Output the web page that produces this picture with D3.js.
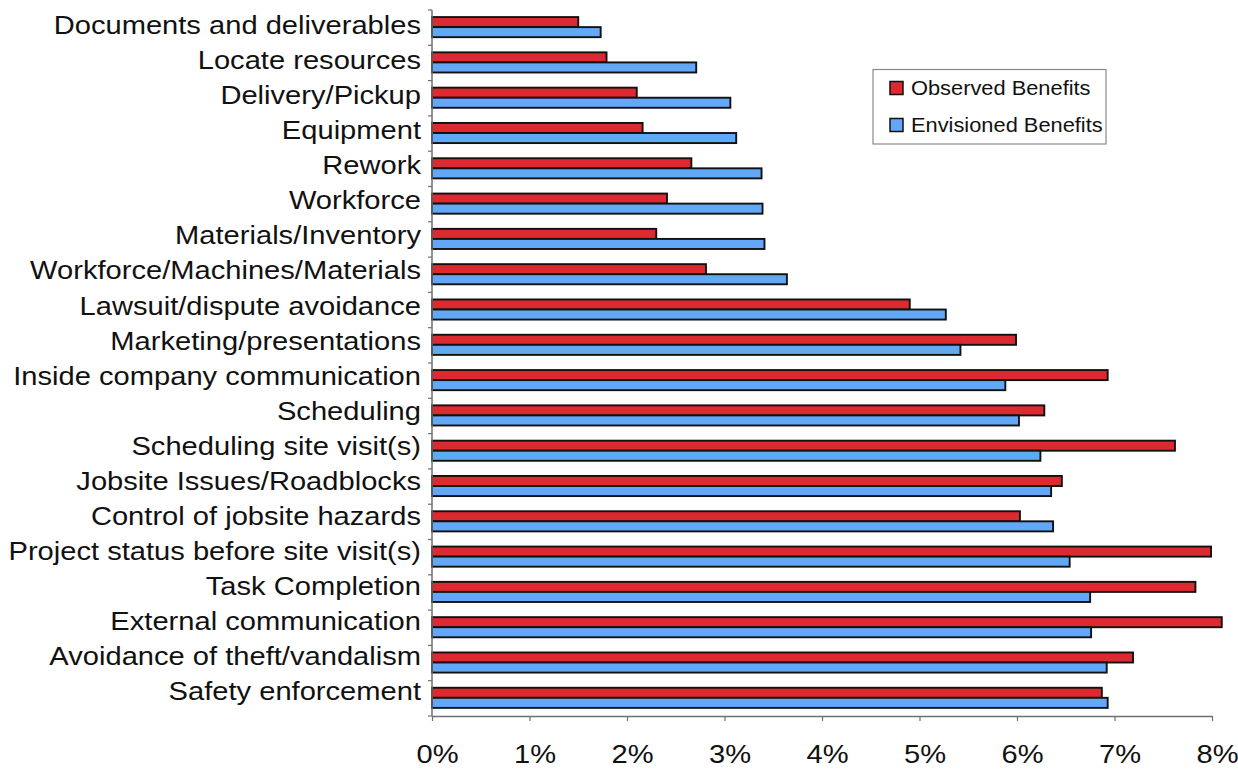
<!DOCTYPE html>
<html>
<head>
<meta charset="utf-8">
<script src="https://cdn.jsdelivr.net/npm/d3@7"></script>
<style>
  body { margin: 0; background: #fff; }
  svg { display: block; }
</style>
</head>
<body>
<svg id="chart" width="1238" height="772"></svg>
<script>
// Benefit categories, listed top to bottom
const categories = [
  "Documents and deliverables",
  "Locate resources",
  "Delivery/Pickup",
  "Equipment",
  "Rework",
  "Workforce",
  "Materials/Inventory",
  "Workforce/Machines/Materials",
  "Lawsuit/dispute avoidance",
  "Marketing/presentations",
  "Inside company communication",
  "Scheduling",
  "Scheduling site visit(s)",
  "Jobsite Issues/Roadblocks",
  "Control of jobsite hazards",
  "Project status before site visit(s)",
  "Task Completion",
  "External communication",
  "Avoidance of theft/vandalism",
  "Safety enforcement"
];

// Share of responses, in percent
const observed = [1.50, 1.79, 2.10, 2.16, 2.66, 2.41, 2.30, 2.81, 4.90, 5.99,
                  6.93, 6.28, 7.62, 6.46, 6.03, 7.99, 7.83, 8.10, 7.19, 6.87];
const envisioned = [1.73, 2.71, 3.06, 3.12, 3.38, 3.39, 3.41, 3.64, 5.27, 5.42,
                    5.88, 6.02, 6.24, 6.35, 6.37, 6.54, 6.75, 6.76, 6.92, 6.93];

const xTicks = [0, 1, 2, 3, 4, 5, 6, 7, 8];
const seriesNames = ["Observed Benefits", "Envisioned Benefits"];
const seriesColors = ["#dc2a30", "#62a8f6"];

const svg = d3.select("#chart");
const FONT = '"Liberation Sans", Arial, Helvetica, sans-serif';
const STRETCH = 1.12; // slightly wide lettering
const plot = { left: 432, right: 1212, top: 10, bottom: 716 };
const axisColor = "#6f6f6f";

const x = d3.scaleLinear().domain([0, 8]).range([plot.left, plot.right]);
const y = d3.scaleBand().domain(categories).range([plot.top, plot.bottom]);
const inner = d3.scaleBand().domain([0, 1])
  .range([y.bandwidth() * 0.2, y.bandwidth() * 0.77]);
// labels sit a little above the band centre, more so further down
const labelBaseline = d3.scaleLinear().domain([0, categories.length - 1]).range([6.3, 2.0]);

const series = [observed, envisioned];

// Bars
series.forEach((vals, si) => {
  svg.append("g").selectAll("rect")
    .data(categories)
    .join("rect")
    .attr("x", x(0))
    .attr("y", (c) => y(c) + inner(si))
    .attr("width", (c, i) => x(vals[i]) - x(0))
    .attr("height", inner.bandwidth())
    .attr("fill", seriesColors[si])
    .attr("stroke", "#111")
    .attr("stroke-width", 1.9);
});

// Category axis: line with ticks on band boundaries
const yAxisG = svg.append("g");
yAxisG.append("line")
  .attr("x1", plot.left).attr("x2", plot.left)
  .attr("y1", plot.top).attr("y2", plot.bottom)
  .attr("stroke", axisColor).attr("stroke-width", 1.5);
const boundaries = categories.map((c) => y(c)).concat([y.range()[1]]);
yAxisG.selectAll("line.tick")
  .data(boundaries)
  .join("line")
  .attr("class", "tick")
  .attr("x1", plot.left - 4).attr("x2", plot.left)
  .attr("y1", (d) => d).attr("y2", (d) => d)
  .attr("stroke", axisColor).attr("stroke-width", 1.2);

// Category labels
const yLabels = svg.append("g")
  .attr("transform", `translate(${plot.left},0)`)
  .call(d3.axisLeft(y).tickSize(0).tickPadding(11));
yLabels.select(".domain").remove();
yLabels.selectAll("text")
  .attr("x", 0).attr("dy", null)
  .attr("y", (d, i) => labelBaseline(i))
  .attr("transform", `translate(-11,0) scale(${STRETCH},1)`)
  .attr("fill", "#111")
  .style("font-family", FONT)
  .style("font-size", "26px");

// Value axis
const xAxisG = svg.append("g")
  .attr("transform", `translate(0,${plot.bottom})`)
  .call(d3.axisBottom(x).tickValues(xTicks).tickFormat((d) => d + "%").tickSize(5).tickSizeOuter(0));
xAxisG.select(".domain").attr("stroke", axisColor).attr("stroke-width", 1.5);
xAxisG.selectAll(".tick line").attr("stroke", axisColor).attr("stroke-width", 1.2);
xAxisG.selectAll("text")
  .attr("x", 0).attr("dy", null).attr("y", 0)
  .attr("transform", `translate(5,47) scale(${STRETCH},1)`)
  .attr("fill", "#111")
  .style("font-family", FONT)
  .style("font-size", "26px");

// Legend
const legend = svg.append("g").attr("transform", "translate(873,69.5)");
legend.append("rect")
  .attr("width", 233).attr("height", 74.5)
  .attr("fill", "#fff").attr("stroke", "#8a8a8a").attr("stroke-width", 1.2);
seriesNames.forEach((name, i) => {
  const row = legend.append("g").attr("transform", `translate(17,${12 + i * 37})`);
  row.append("rect")
    .attr("width", 13).attr("height", 13)
    .attr("fill", seriesColors[i]).attr("stroke", "#111").attr("stroke-width", 1.5);
  row.append("text")
    .attr("transform", `translate(21,13.5) scale(${STRETCH},1)`)
    .attr("fill", "#111")
    .style("font-family", FONT)
    .style("font-size", "19.5px")
    .text(name);
});
</script>
</body>
</html>
